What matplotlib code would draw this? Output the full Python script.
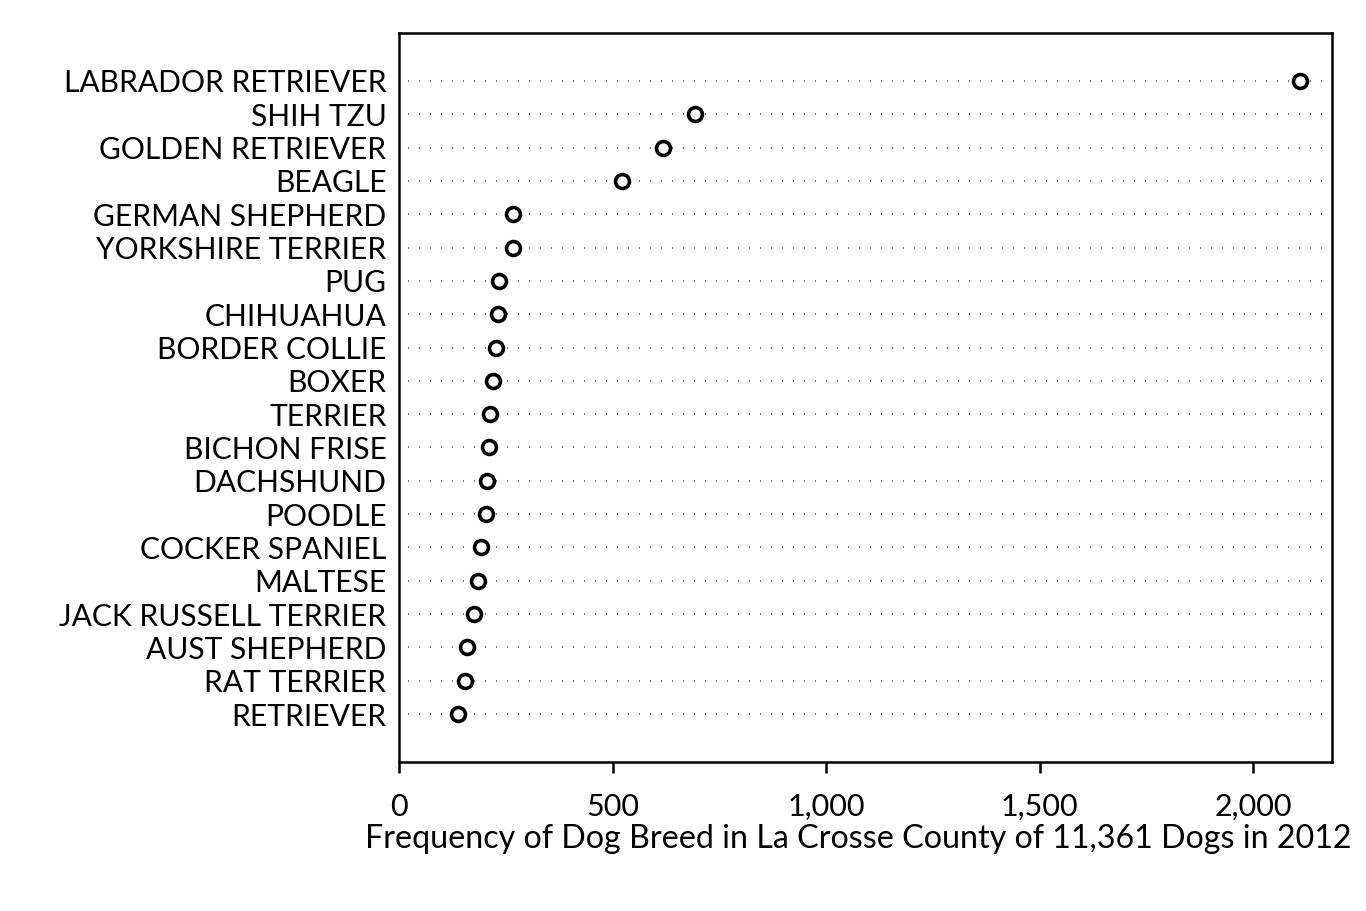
import matplotlib
matplotlib.use("Agg")
import matplotlib.pyplot as plt
from matplotlib.ticker import FuncFormatter

plt.rcParams['font.family'] = ['Lato', 'DejaVu Sans']

breeds = ["LABRADOR RETRIEVER", "SHIH TZU", "GOLDEN RETRIEVER", "BEAGLE",
          "GERMAN SHEPHERD", "YORKSHIRE TERRIER", "PUG", "CHIHUAHUA",
          "BORDER COLLIE", "BOXER", "TERRIER", "BICHON FRISE", "DACHSHUND",
          "POODLE", "COCKER SPANIEL", "MALTESE", "JACK RUSSELL TERRIER",
          "AUST SHEPHERD", "RAT TERRIER", "RETRIEVER"]
counts = [2110, 693, 618, 522, 267, 267, 234, 232, 227, 220, 213, 211,
          206, 204, 192, 185, 176, 159, 155, 138]
xticks = [0, 500, 1000, 1500, 2000]

fig = plt.figure(figsize=(13.66, 9.11), dpi=100)
ax = fig.add_axes([399/1366, 1-762/911, (1332-399)/1366, (762-33)/911])

ypos = list(range(len(breeds)))
for y in ypos:
    ax.plot([22, 2185], [y, y], linestyle=(0, (0.6, 6.0)), color='#555555', lw=1.2, zorder=1)

ax.plot(counts, ypos, 'o', ms=10, mfc='white', mec='black', mew=2.6, zorder=3, clip_on=False)

ax.set_xlim(0, 2185)
ax.set_ylim(19 + 1.44, -1.44)
ax.set_yticks(ypos)
ax.set_yticklabels(breeds, fontsize=21.6)
ax.tick_params(axis='y', length=0, pad=9)
ax.set_xticks(xticks)
ax.xaxis.set_major_formatter(FuncFormatter(lambda v, p: f"{int(v):,}"))
ax.tick_params(axis='x', length=8, width=1.8, labelsize=22, pad=14, direction='out')
for s in ax.spines.values():
    s.set_linewidth(1.8)
ax.set_xlabel("Frequency of Dog Breed in La Crosse County of 11,361 Dogs in 2012",
              fontsize=23.2)
ax.xaxis.set_label_coords(0.492, -0.085)

fig.savefig("out.png", dpi=100)
